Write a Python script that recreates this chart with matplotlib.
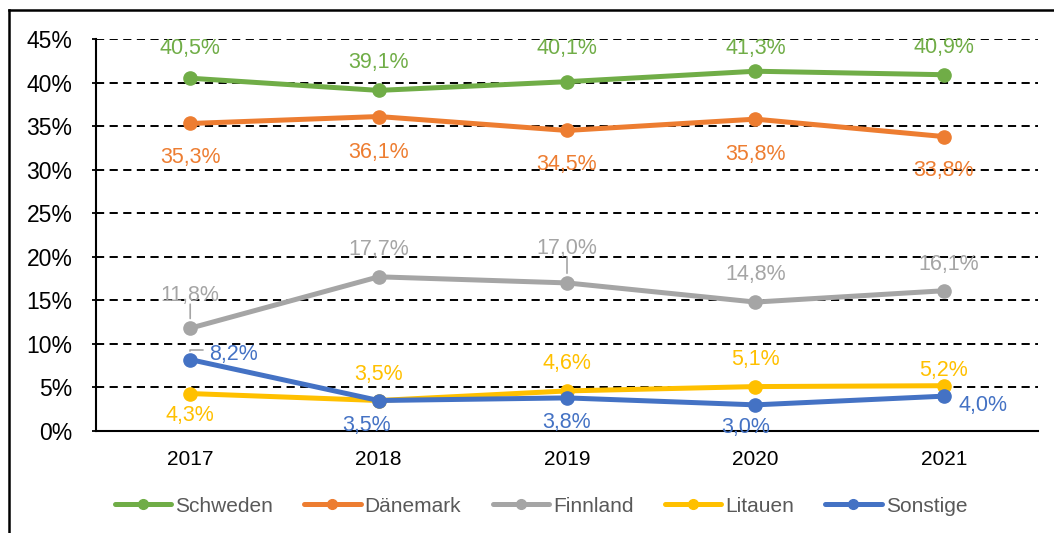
import matplotlib
matplotlib.use("Agg")
import matplotlib.pyplot as plt
from matplotlib.lines import Line2D

plt.rcParams['font.family'] = ['Liberation Sans', 'DejaVu Sans']

years = ["2017", "2018", "2019", "2020", "2021"]
series_names = ["Schweden", "Dänemark", "Finnland", "Litauen", "Sonstige"]
schweden = [40.5, 39.1, 40.1, 41.3, 40.9]
daenemark = [35.3, 36.1, 34.5, 35.8, 33.8]
finnland = [11.8, 17.7, 17.0, 14.8, 16.1]
litauen = [4.3, 3.5, 4.6, 5.1, 5.2]
sonstige = [8.2, 3.5, 3.8, 3.0, 4.0]
yticks = [0, 5, 10, 15, 20, 25, 30, 35, 40, 45]

colors = ["#70AD47", "#ED7D31", "#A5A5A5", "#FFC000", "#4472C4"]
# label offsets in pixels (dx, dy), style only
offsets = [
    [(0, 32), (0, 30), (0, 36), (0, 25), (0, 30)],
    [(0, -32), (0, -33), (0, -32), (0, -33), (0, -31)],
    [(0, 35), (0, 30), (0, 37), (0, 30), (5, 29)],
    [(0, -19), (0, 29), (0, 30), (0, 30), (0, 18)],
    [(43, 8), (-12, -22), (0, -22), (-10, -20), (39, -7)],
]
shift = -2.5  # rendering correction of text centre
leaders = {(2, 0): 'v', (2, 2): 'v', (4, 0): 'corner'}

W, H = 1054, 533
fig = plt.figure(figsize=(W / 100, H / 100), dpi=100)
ax = fig.add_axes([96 / W, 1 - 431 / H, (1038 - 96) / W, (431 - 39) / H])

data = [schweden, daenemark, finnland, litauen, sonstige]
x = list(range(len(years)))
for i in range(len(data)):
    ax.plot(x, data[i], color=colors[i], lw=3.6, marker='o', ms=9.5,
            solid_capstyle='round', zorder=3 + i * 0.1, label=series_names[i])

px = 0.72  # px -> points
for i, vals in enumerate(data):
    for j, v in enumerate(vals):
        dx, dy = offsets[i][j]
        ax.annotate(f"{v:.1f}%".replace('.', ','), (j, v),
                    xytext=(dx * px, (dy + shift) * px), textcoords='offset points',
                    ha='center', va='center', color=colors[i], fontsize=15.5,
                    zorder=6)
        kind = leaders.get((i, j))
        if kind == 'v':
            ax.annotate("", (j, v), xytext=(0, (dy - 11) * px),
                        textcoords='offset points',
                        arrowprops=dict(arrowstyle='-', color='#A5A5A5', lw=1.2,
                                        shrinkA=0, shrinkB=7), zorder=2)
        elif kind == 'corner':
            ax.annotate("", (j, v), xytext=(13 * px, 10 * px),
                        textcoords='offset points',
                        arrowprops=dict(arrowstyle='-', color='#A5A5A5', lw=1.2,
                                        shrinkA=0, shrinkB=6,
                                        connectionstyle='angle,angleA=180,angleB=90,rad=0'),
                        zorder=2)

ax.set_xlim(-0.5, len(years) - 0.5)
ax.set_ylim(0, 45)
ax.set_yticks(yticks)
ax.set_yticklabels([f"{t}%" for t in yticks], fontsize=16.5)
ax.set_xticks(x)
ax.set_xticklabels(years, fontsize=15)
ax.tick_params(axis='x', length=0, pad=14)
ax.tick_params(axis='y', length=3, width=1.3, pad=14, direction='out')
for t in yticks[1:]:
    ax.axhline(t, color='black', lw=1.4, ls=(0, (4.2, 2.8)), zorder=1)
for s in ['top', 'right']:
    ax.spines[s].set_visible(False)
ax.spines['left'].set_linewidth(1.5)
ax.spines['bottom'].set_linewidth(1.5)

handles = [Line2D([0], [0], color=colors[i], lw=3.6, marker='o', ms=7,
                  solid_capstyle='round') for i in range(5)]
leg = fig.legend(handles, series_names, loc='center', bbox_to_anchor=(541 / W, 1 - 506 / H),
                 ncol=5, frameon=False, fontsize=15, handlelength=2.7,
                 handletextpad=0.2, columnspacing=1.5)
for t in leg.get_texts():
    t.set_color('#595959')

# outer frame (left and top edges)
fig.add_artist(Line2D([9 / W, 9 / W], [0, 1 - 10 / H], color='black', lw=1.8,
                      transform=fig.transFigure))
fig.add_artist(Line2D([9 / W, 1], [1 - 10 / H, 1 - 10 / H], color='black', lw=1.8,
                      transform=fig.transFigure))

fig.savefig("out.png", dpi=100)
